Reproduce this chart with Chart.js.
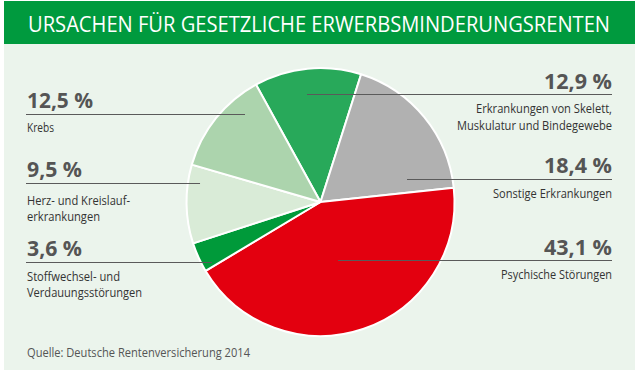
<!DOCTYPE html>
<html><head><meta charset="utf-8">
<script src="https://cdn.jsdelivr.net/npm/chart.js@4"></script>
<style>
html,body{margin:0;padding:0;width:635px;height:373px;overflow:hidden;background:#fff;}
#wrap{position:relative;width:635px;height:373px;}
#bg,#c{position:absolute;left:0;top:0;}
</style></head><body>
<div id="wrap">
<svg id="bg" width="635" height="373" xmlns="http://www.w3.org/2000/svg"></svg>
<canvas id="c" width="635" height="373"></canvas>
</div>
<script>
// ---- data ----
const title = 'URSACHEN FÜR GESETZLICHE ERWERBSMINDERUNGSRENTEN';
const source = 'Quelle: Deutsche Rentenversicherung 2014';
const categories = ['Erkrankungen von Skelett, Muskulatur und Bindegewebe', 'Sonstige Erkrankungen', 'Psychische Störungen', 'Stoffwechsel- und Verdauungsstörungen', 'Herz- und Kreislauferkrankungen', 'Krebs'];
const categoryLines = [['Erkrankungen von Skelett,', 'Muskulatur und Bindegewebe'], ['Sonstige Erkrankungen'], ['Psychische Störungen'], ['Stoffwechsel- und', 'Verdauungsstörungen'], ['Herz- und Kreislauf-', 'erkrankungen'], ['Krebs']];
const values = [12.9, 18.4, 43.1, 3.6, 9.5, 12.5];
const colors = ['#28a95a', '#b1b1b1', '#e3000f', '#009a3a', '#d9ebd7', '#acd4ad'];

// ---- layout (positions / sizes only) ----
const side = ['r', 'r', 'r', 'l', 'l', 'l'];
const numBaseline = [89, 173, 255, 256, 177, 108];
const numWidth = [68, 68, 68, 55, 55, 66];
const labelBaselines = [[113, 130], [198], [279], [281, 297], [205, 221], [132]];
const labelWidths = [[136, 155], [119], [111], [93, 115], [103, 73], [27]];
const leaderT = [0.467, 0.868, 0.511, 0.156, 0.788, 0.737];
const leaderR = [0.812, 0.668, 0.452, 0.925, 0.910, 0.865];
const leaderEdge = [612, 612, 612, 26, 26, 26];
const rightX = 612, leftX = 27;

const NS = 'http://www.w3.org/2000/svg';
const svg = document.getElementById('bg');
function el(tag, attrs, text) {
  const e = document.createElementNS(NS, tag);
  for (const k in attrs) e.setAttribute(k, attrs[k]);
  if (text !== undefined) e.textContent = text;
  svg.appendChild(e);
  return e;
}
el('rect', {x: 4, y: 1, width: 631, height: 369, fill: '#ebf4ec'});
el('rect', {x: 4, y: 1, width: 631, height: 43, fill: '#009a3e'});
el('text', {x: 28, y: 32, fill: '#ffffff', 'font-family': 'Open Sans', 'font-size': 22, textLength: 582, lengthAdjust: 'spacingAndGlyphs'}, title);
el('text', {x: 27, y: 357, fill: '#555555', 'font-family': 'Open Sans', 'font-size': 13, textLength: 223, lengthAdjust: 'spacingAndGlyphs'}, source);

values.forEach((v, i) => {
  const right = side[i] === 'r';
  const x = right ? rightX : leftX;
  const anchor = right ? 'end' : 'start';
  el('text', {x: x, y: numBaseline[i], fill: '#555555', 'font-family': 'Open Sans', 'font-weight': 'bold', 'font-size': 22, 'text-anchor': anchor, textLength: numWidth[i], lengthAdjust: 'spacingAndGlyphs'}, v.toFixed(1).replace('.', ',') + ' %');
  categoryLines[i].forEach((line, j) => {
    el('text', {x: x, y: labelBaselines[i][j], fill: '#333333', 'font-family': 'Open Sans', 'font-size': 13, 'text-anchor': anchor, textLength: labelWidths[i][j], lengthAdjust: 'spacingAndGlyphs'}, line);
  });
});

const leaderPlugin = {
  id: 'leaders',
  afterDatasetsDraw(chart) {
    const meta = chart.getDatasetMeta(0);
    const c = chart.ctx;
    c.save();
    c.strokeStyle = '#5a5a5a';
    c.lineWidth = 1;
    meta.data.forEach((arc, i) => {
      const p = arc.getProps(['x', 'y', 'startAngle', 'endAngle', 'outerRadius'], true);
      const a = p.startAngle + leaderT[i] * (p.endAngle - p.startAngle);
      const r = p.outerRadius * leaderR[i];
      const px = p.x + r * Math.cos(a);
      const py = Math.round(p.y + r * Math.sin(a)) + 0.5;
      c.beginPath();
      c.moveTo(px, py);
      c.lineTo(leaderEdge[i], py);
      c.stroke();
    });
    c.restore();
  }
};

new Chart(document.getElementById('c'), {
  type: 'pie',
  data: {
    labels: categories,
    datasets: [{data: values, backgroundColor: colors, borderColor: '#ffffff', borderWidth: 2, hoverBorderWidth: 2, hoverOffset: 0}]
  },
  options: {
    responsive: false,
    animation: false,
    events: [],
    rotation: -28.8,
    radius: 134,
    layout: {padding: {left: 6, top: 31, right: 0, bottom: 0}},
    plugins: {legend: {display: false}, tooltip: {enabled: false}}
  },
  plugins: [leaderPlugin]
});
</script>
</body></html>
